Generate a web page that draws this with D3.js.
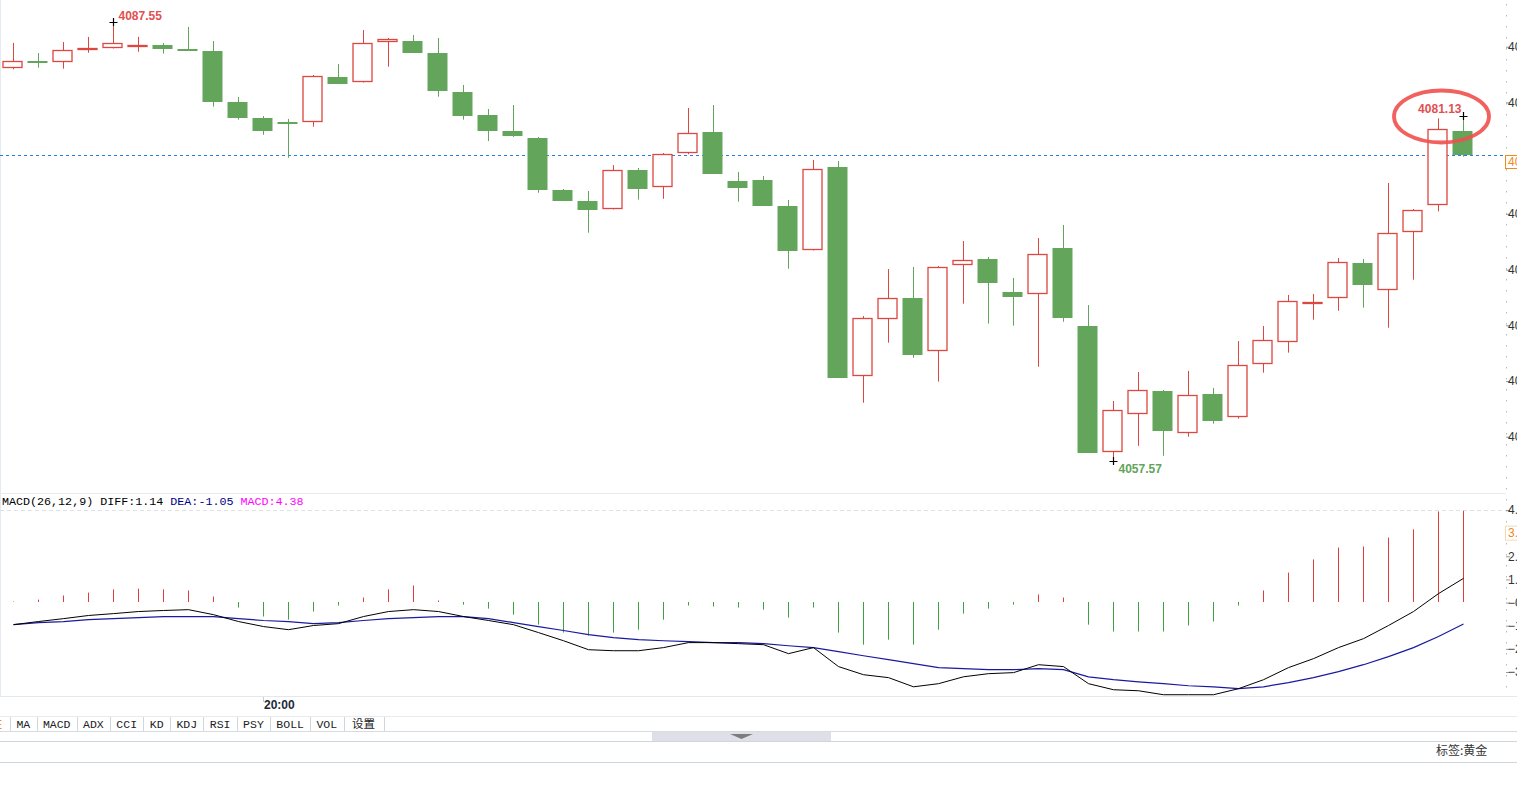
<!DOCTYPE html>
<html>
<head>
<meta charset="utf-8">
<script src="https://cdn.jsdelivr.net/npm/d3@7"></script>
<style>
body { margin: 0; background: #fff; overflow: hidden; }
svg { display: block; }
</style>
</head>
<body>
<div id="chart"></div>
<script>
// candle values, one per bar (left to right)
var opens = [4084.39,4084.89,4084.80,4085.66,4085.75,4085.86,4085.98,4085.73,4085.59,4082.09,
  4080.99,4080.74,4080.70,4083.79,4083.43,4086.16,4086.25,4085.43,4082.77,4081.20,
  4080.11,4079.63,4076.08,4075.33,4074.76,4077.44,4076.26,4078.58,4080.04,4076.69,
  4076.76,4074.98,4071.96,4077.65,4063.35,4067.25,4068.70,4065.06,4070.93,4071.37,
  4069.11,4068.95,4072.12,4066.79,4058.16,4060.76,4062.35,4059.46,4062.15,4060.55,
  4064.17,4065.72,4068.37,4068.68,4071.09,4069.23,4073.19,4075.03,4080.11];
var closes = [4084.87,4084.77,4085.64,4085.77,4086.10,4085.98,4085.73,4085.59,4082.11,4081.01,
  4080.13,4080.61,4083.84,4083.34,4086.10,4086.37,4085.45,4082.86,4081.15,4080.13,
  4079.79,4076.10,4075.35,4074.73,4077.42,4076.17,4078.52,4079.95,4077.19,4076.23,
  4075.00,4071.93,4077.49,4063.26,4067.31,4068.68,4064.83,4070.80,4071.28,4069.75,
  4068.79,4071.69,4067.36,4058.14,4061.05,4062.40,4059.64,4062.06,4060.32,4064.10,
  4065.81,4068.48,4068.41,4071.14,4069.61,4073.12,4074.69,4080.22,4078.47];
var highs = [4086.12,4085.43,4086.18,4086.53,4087.55,4086.53,4086.12,4087.21,4086.25,4082.43,
  4081.13,4080.93,4083.93,4084.68,4087.00,4086.46,4086.66,4086.46,4083.25,4081.61,
  4081.88,4079.70,4076.15,4076.01,4077.78,4077.58,4078.60,4081.68,4081.88,4077.31,
  4077.03,4075.39,4078.13,4078.06,4067.47,4070.68,4070.82,4070.89,4072.59,4071.50,
  4070.07,4072.80,4073.69,4068.22,4061.67,4063.65,4062.42,4063.72,4062.56,4065.76,
  4066.79,4068.91,4068.98,4071.43,4071.37,4076.56,4074.78,4080.97,4081.13];
var lows = [4084.32,4084.43,4084.36,4085.45,4085.74,4085.52,4085.39,4085.58,4081.77,4080.88,
  4079.85,4078.28,4080.40,4083.33,4083.42,4084.50,4085.44,4082.45,4080.88,4079.42,
  4079.70,4075.89,4075.34,4073.16,4074.75,4075.42,4075.48,4078.52,4077.18,4075.28,
  4074.99,4070.70,4071.95,4063.25,4061.55,4065.65,4064.62,4062.99,4068.31,4066.95,
  4066.81,4064.01,4067.08,4058.13,4057.57,4058.61,4057.93,4059.23,4060.12,4060.46,
  4063.60,4064.97,4067.22,4067.83,4068.04,4066.67,4069.95,4074.62,4078.35];

// MACD(26,12,9)
var diff = [-1.08,-0.93,-0.79,-0.64,-0.55,-0.45,-0.40,-0.36,-0.60,-0.93,
  -1.17,-1.32,-1.12,-1.03,-0.69,-0.45,-0.36,-0.45,-0.69,-0.88,
  -1.08,-1.46,-1.85,-2.28,-2.33,-2.33,-2.18,-1.94,-1.94,-1.99,
  -2.04,-2.47,-2.18,-3.09,-3.48,-3.62,-4.06,-3.91,-3.58,-3.43,
  -3.38,-3.00,-3.09,-3.91,-4.20,-4.25,-4.44,-4.44,-4.44,-4.15,
  -3.72,-3.14,-2.71,-2.18,-1.75,-1.12,-0.45,0.41,1.14];
var dea = [-1.08,-0.98,-0.93,-0.84,-0.79,-0.74,-0.69,-0.69,-0.69,-0.79,
  -0.88,-0.93,-1.03,-0.98,-0.88,-0.79,-0.74,-0.69,-0.69,-0.79,
  -0.98,-1.17,-1.36,-1.56,-1.70,-1.80,-1.85,-1.89,-1.94,-1.94,
  -1.99,-2.09,-2.18,-2.37,-2.57,-2.76,-2.95,-3.14,-3.19,-3.24,
  -3.24,-3.19,-3.24,-3.58,-3.72,-3.82,-3.91,-4.01,-4.06,-4.15,
  -4.06,-3.86,-3.62,-3.33,-3.00,-2.61,-2.18,-1.65,-1.05];
var macdHist = [0.03,0.12,0.32,0.46,0.61,0.65,0.61,0.56,0.27,-0.26,
  -0.69,-0.84,-0.45,-0.16,0.22,0.61,0.80,0.08,-0.12,-0.31,
  -0.60,-1.08,-1.46,-1.60,-1.46,-1.32,-0.84,-0.16,-0.21,-0.26,
  -0.36,-0.74,-0.26,-1.46,-2.04,-1.80,-2.04,-1.32,-0.55,-0.31,
  -0.12,0.37,0.22,-1.08,-1.41,-1.41,-1.41,-1.12,-0.93,-0.16,
  0.56,1.42,2.05,2.62,2.67,3.10,3.49,4.35,4.38];

var priceTicks = [4085.86,4082.06,4078.25,4074.45,4070.64,4066.84,4063.03,4059.23];
var macdTicks = [4.42,3.31,2.20,1.09,-0.02,-1.13,-2.24,-3.35];
var tabs = ["MA","MACD","ADX","CCI","KD","KDJ","RSI","PSY","BOLL","VOL","设置"];

var w = 1517, h = 798;
var red = "#dc4740", green = "#62a55b";

var svg = d3.select("#chart").append("svg")
  .attr("width", w).attr("height", h)
  .style("background", "#fff");

var x = d3.scaleBand()
  .domain(d3.range(opens.length))
  .range([0, 1475])
  .paddingInner(0.2)
  .paddingOuter(0.1);
var bw = x.bandwidth();
var cx = function(i) { return Math.round(x(i) + bw / 2) + 0.5; };

var y = d3.scaleLinear().domain([4087.55, 4057.57]).range([22, 461]);
var my = d3.scaleLinear().domain([-3.35, 4.42]).range([672, 510]);

// panel borders
svg.append("line").attr("x1", 0.5).attr("x2", 0.5).attr("y1", 0).attr("y2", 696)
  .attr("stroke", "#e3eaf2");
svg.append("line").attr("x1", 0).attr("x2", 1506).attr("y1", 493.5).attr("y2", 493.5)
  .attr("stroke", "#e8ecf0");
svg.append("line").attr("x1", 0).attr("x2", w).attr("y1", 696.5).attr("y2", 696.5)
  .attr("stroke", "#e3e8ee");
svg.append("line").attr("x1", 1506.5).attr("x2", 1506.5).attr("y1", 4).attr("y2", 696)
  .attr("stroke", "#b8b8b8").attr("stroke-dasharray", "1.5,9.5");

var last = closes[closes.length - 1];

// price axis (right side, labels run off the edge)
var yAxis = d3.axisRight(y).tickValues(priceTicks).tickSize(4)
  .tickFormat(d3.format(".2f"));
var ga = svg.append("g").attr("transform", "translate(1506,0)").call(yAxis);
ga.select(".domain").remove();
ga.selectAll(".tick line").attr("stroke", "#999");
ga.selectAll(".tick text").attr("x", 2).attr("fill", "#333")
  .style("font-family", "Arial, 'Liberation Sans', sans-serif").style("font-size", "12px");
// the tick hidden behind the last-price box
ga.selectAll(".tick").filter(function(d) { return Math.abs(y(d) - y(last)) < 10; })
  .select("text").remove();

// last close line
svg.append("line").attr("x1", 0).attr("x2", 1506)
  .attr("y1", Math.round(y(last)) + 0.5).attr("y2", Math.round(y(last)) + 0.5)
  .attr("stroke", "#1f7fe6").attr("stroke-dasharray", "3,3");
var lastG = svg.append("g").attr("transform", "translate(1505," + Math.round(y(last)) + ")");
lastG.append("rect").attr("x", 0.5).attr("y", 0.5).attr("width", 20).attr("height", 13)
  .attr("fill", "#fff").attr("stroke", "#f08a1c");
lastG.append("text").attr("x", 3).attr("y", 11).attr("fill", "#f08a1c")
  .style("font-family", "Arial, 'Liberation Sans', sans-serif").style("font-size", "12px")
  .text(d3.format(".2f")(last));

// candles
var candles = svg.selectAll("g.candle")
  .data(opens.map(function(o, i) { return {i: i, o: o, c: closes[i], h: highs[i], l: lows[i]}; }))
  .enter().append("g").attr("class", "candle");

candles.each(function(d) {
  var g = d3.select(this);
  var up = d.c >= d.o;
  var top = Math.round(y(Math.max(d.o, d.c)));
  var bot = Math.round(y(Math.min(d.o, d.c)));
  if (bot - top < 1) bot = top + 1;
  var col = up ? red : green;
  if (up) {
    g.append("line").attr("x1", cx(d.i)).attr("x2", cx(d.i))
      .attr("y1", y(d.h)).attr("y2", top).attr("stroke", col);
    g.append("line").attr("x1", cx(d.i)).attr("x2", cx(d.i))
      .attr("y1", bot).attr("y2", y(d.l)).attr("stroke", col);
    g.append("rect").attr("x", x(d.i) + 0.5).attr("y", top + 0.5)
      .attr("width", bw - 1).attr("height", Math.max(bot - top - 1, 1))
      .attr("fill", "#fff").attr("stroke", col).attr("stroke-width", 1.3);
  } else {
    g.append("line").attr("x1", cx(d.i)).attr("x2", cx(d.i))
      .attr("y1", y(d.h)).attr("y2", y(d.l)).attr("stroke", col);
    g.append("rect").attr("x", x(d.i)).attr("y", top)
      .attr("width", bw).attr("height", Math.max(bot - top, 2))
      .attr("fill", col);
  }
});

// high / low markers
function cross(px, py) {
  svg.append("path")
    .attr("d", "M" + (px - 4) + "," + (py + 0.5) + "h8M" + (px) + "," + (py - 4) + "v8")
    .attr("stroke", "#000").attr("stroke-width", 1.2);
}
var iMax = d3.maxIndex(highs), iMin = d3.minIndex(lows), iLast = highs.length - 1;
cross(cx(iMax), Math.round(y(highs[iMax])));
cross(cx(iMin), Math.round(y(lows[iMin])));
cross(cx(iLast), Math.round(y(highs[iLast])));

var lblFont = "Arial, 'Liberation Sans', sans-serif";
svg.append("text").attr("x", cx(iMax) + 5).attr("y", y(highs[iMax]) - 2)
  .attr("fill", "#e05050").style("font-family", lblFont).style("font-size", "12px")
  .style("font-weight", "bold").text(d3.format(".2f")(highs[iMax]));
svg.append("text").attr("x", cx(iMin) + 5).attr("y", y(lows[iMin]) + 12)
  .attr("fill", "#62a55b").style("font-family", lblFont).style("font-size", "12px")
  .style("font-weight", "bold").text(d3.format(".2f")(lows[iMin]));
svg.append("text").attr("x", cx(iLast) - 2).attr("y", y(highs[iLast]) - 3)
  .attr("text-anchor", "end")
  .attr("fill", "#e05050").style("font-family", lblFont).style("font-size", "12px")
  .style("font-weight", "bold").text(d3.format(".2f")(highs[iLast]));

// hand-drawn circle around the last high
svg.append("ellipse").attr("cx", 1441.5).attr("cy", 116.5).attr("rx", 47.5).attr("ry", 26)
  .attr("fill", "none").attr("stroke", "#f0504c").attr("stroke-width", 3.8).attr("opacity", 0.9);

// MACD header
var hdr = svg.append("text").attr("x", 2).attr("y", 505)
  .style("font-family", "'Liberation Mono', 'DejaVu Sans Mono', monospace")
  .style("font-size", "11.7px");
hdr.append("tspan").attr("fill", "#000").text("MACD(26,12,9) DIFF:" + diff[diff.length - 1].toFixed(2) + " ");
hdr.append("tspan").attr("fill", "#00008b").text("DEA:" + dea[dea.length - 1].toFixed(2) + " ");
hdr.append("tspan").attr("fill", "#ff00ff").text("MACD:" + macdHist[macdHist.length - 1].toFixed(2));

// MACD grid top
svg.append("line").attr("x1", 0).attr("x2", 1506).attr("y1", Math.round(my(macdTicks[0])) + 0.5)
  .attr("y2", Math.round(my(macdTicks[0])) + 0.5)
  .attr("stroke", "#dde2e8").attr("stroke-dasharray", "4,3");

var mAxis = d3.axisRight(my).tickValues(macdTicks).tickSize(4).tickFormat(d3.format(".2f"));
var gm = svg.append("g").attr("transform", "translate(1506,0)").call(mAxis);
gm.select(".domain").remove();
gm.selectAll(".tick line").attr("stroke", "#999");
gm.selectAll(".tick text").attr("x", 2).attr("fill", "#333")
  .style("font-family", lblFont).style("font-size", "12px");
// highlighted tick label
var hl = gm.selectAll(".tick").filter(function(d, i) { return i === 1; });
hl.insert("rect", "text").attr("x", -0.5).attr("y", -7.5).attr("width", 20).attr("height", 14)
  .attr("fill", "#fff").attr("stroke", "#f3d9b8");
hl.select("text").attr("fill", "#f08a1c");

// histogram
svg.selectAll("line.hist").data(macdHist).enter().append("line")
  .attr("class", "hist")
  .attr("x1", function(d, i) { return cx(i); })
  .attr("x2", function(d, i) { return cx(i); })
  .attr("y1", Math.round(my(0)))
  .attr("y2", function(d) { return my(d); })
  .attr("stroke", function(d) { return d >= 0 ? "#e03c3c" : "#3fa03f"; });

var line = d3.line().x(function(d, i) { return cx(i); }).y(function(d) { return my(d); });
svg.append("path").datum(dea).attr("d", line).attr("fill", "none")
  .attr("stroke", "#1a1aa0").attr("stroke-width", 1.2);
svg.append("path").datum(diff).attr("d", line).attr("fill", "none")
  .attr("stroke", "#000").attr("stroke-width", 1);

// time axis label
svg.append("line").attr("x1", 263.5).attr("x2", 263.5).attr("y1", 697).attr("y2", 702).attr("stroke", "#ccc");
svg.append("text").attr("x", 264).attr("y", 709).attr("fill", "#1e2a38")
  .style("font-family", lblFont).style("font-size", "12px").style("font-weight", "bold")
  .text("20:00");

// indicator tabs
var tabFont = "'Liberation Mono', 'Noto Sans CJK SC', monospace";
svg.append("line").attr("x1", 0).attr("x2", w).attr("y1", 716.5).attr("y2", 716.5).attr("stroke", "#e6ebf0");
svg.append("text").attr("x", -5).attr("y", 729).attr("fill", "#f08a1c")
  .style("font-family", tabFont).style("font-size", "12px").text("E");
var tx = 10;
svg.append("line").attr("x1", tx + 0.5).attr("x2", tx + 0.5).attr("y1", 717).attr("y2", 731).attr("stroke", "#cfd6de");
tabs.forEach(function(t) {
  var n = 0;
  for (var k = 0; k < t.length; k++) n += t.charCodeAt(k) > 255 ? 2 : 1;
  var tw = 6.67 * (n + 2);
  svg.append("text").attr("x", tx + tw / 2).attr("y", 728).attr("text-anchor", "middle")
    .attr("fill", "#222").style("font-family", tabFont).style("font-size", "11.5px").text(t);
  tx += tw;
  svg.append("line").attr("x1", Math.round(tx) + 0.5).attr("x2", Math.round(tx) + 0.5)
    .attr("y1", 717).attr("y2", 731).attr("stroke", "#cfd6de");
});
svg.append("line").attr("x1", 0).attr("x2", w).attr("y1", 731.5).attr("y2", 731.5).attr("stroke", "#d4dbe2");

// scroll bar
svg.append("rect").attr("x", 652).attr("y", 732).attr("width", 179).attr("height", 9).attr("fill", "#dfdfe7");
svg.append("path").attr("d", "M730,734L753,734L741.5,739Z").attr("fill", "#7d7d7d");
svg.append("line").attr("x1", 0).attr("x2", w).attr("y1", 741.5).attr("y2", 741.5).attr("stroke", "#cdd5dd");
svg.append("line").attr("x1", 0).attr("x2", w).attr("y1", 762.5).attr("y2", 762.5).attr("stroke", "#cdd5dd");

svg.append("text").attr("x", 1436).attr("y", 755).attr("fill", "#333")
  .style("font-family", "'Noto Sans CJK SC', sans-serif").style("font-size", "12px")
  .text("标签:黄金");
</script>
</body>
</html>
